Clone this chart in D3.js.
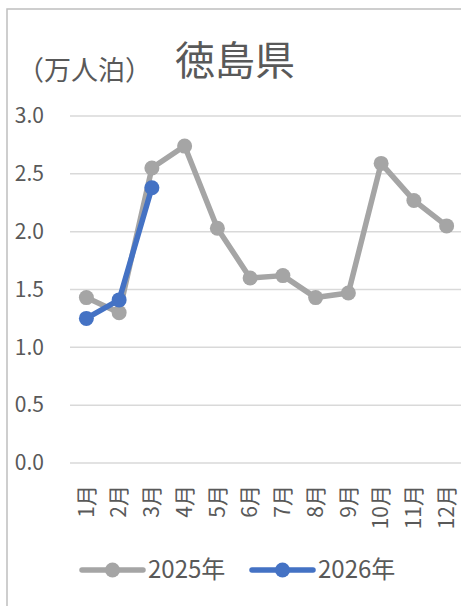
<!doctype html>
<html lang="ja">
<head>
  <meta charset="utf-8">
  <title>徳島県</title>
  <style>
    html, body { margin: 0; padding: 0; background: #fff; overflow: hidden; }
    svg { display: block; font-family: "Noto Sans CJK JP", "Noto Sans", sans-serif; }
  </style>
</head>
<body>
  <div id="chart"></div>
  <script src="https://d3js.org/d3.v7.min.js"></script>
  <script>
    // data (万人泊)
    const months = ["1月", "2月", "3月", "4月", "5月", "6月", "7月", "8月", "9月", "10月", "11月", "12月"];
    const values2025 = [1.43, 1.30, 2.55, 2.74, 2.03, 1.60, 1.62, 1.43, 1.47, 2.59, 2.27, 2.05];
    const values2026 = [1.25, 1.41, 2.38];
    const yTicks = [0, 0.5, 1.0, 1.5, 2.0, 2.5, 3.0];

    const series = [
      { name: "2025年", values: values2025, color: "#a5a5a5" },
      { name: "2026年", values: values2026, color: "#4472c4" }
    ];

    const W = 461, H = 606;
    const plot = { left: 70, right: 463, top: 116, bottom: 463 };
    const textColor = "#595959";

    const svg = d3.select("#chart").append("svg")
      .attr("width", W)
      .attr("height", H);

    // chart frame (right and bottom edges fall outside the picture)
    svg.append("rect")
      .attr("x", 7).attr("y", 9)
      .attr("width", W + 10).attr("height", H + 10)
      .attr("fill", "#fff")
      .attr("stroke", "#bfbfbf")
      .attr("stroke-width", 1.5);

    const x = d3.scaleBand()
      .domain(months)
      .range([plot.left, plot.right]);

    const y = d3.scaleLinear()
      .domain([0, 3])
      .range([plot.bottom, plot.top]);

    // gridlines
    svg.append("g")
      .selectAll("line")
      .data(yTicks)
      .join("line")
      .attr("x1", plot.left).attr("x2", W)
      .attr("y1", d => y(d)).attr("y2", d => y(d))
      .attr("stroke", "#d9d9d9")
      .attr("stroke-width", 1.5);

    // y axis labels
    const yAxis = svg.append("g")
      .attr("transform", `translate(${plot.left - 26},0)`)
      .call(d3.axisLeft(y).tickValues(yTicks).tickFormat(d3.format(".1f")).tickSize(0).tickPadding(0));
    yAxis.select(".domain").remove();
    yAxis.selectAll("text")
      .attr("fill", textColor)
      .style("font-size", "21px")
      .style("font-family", "\"Noto Sans CJK JP\", sans-serif");

    // x axis labels (rotated)
    const xAxis = svg.append("g")
      .attr("transform", `translate(0,${plot.bottom + 22})`)
      .call(d3.axisBottom(x).tickSize(0).tickPadding(0));
    xAxis.select(".domain").remove();
    xAxis.selectAll("text")
      .attr("fill", textColor)
      .attr("transform", "rotate(-90)")
      .attr("text-anchor", "end")
      .attr("dx", 0)
      .attr("dy", "0.35em")
      .attr("y", 0)
      .style("font-size", "21px")
      .style("font-family", "\"Noto Sans CJK JP\", sans-serif");

    // lines and markers
    const line = d3.line()
      .x((d, i) => x(months[i]) + x.bandwidth() / 2)
      .y(d => y(d));

    series.forEach(s => {
      const g = svg.append("g");
      g.append("path")
        .datum(s.values)
        .attr("d", line)
        .attr("fill", "none")
        .attr("stroke", s.color)
        .attr("stroke-width", 5.5)
        .attr("stroke-linejoin", "round")
        .attr("stroke-linecap", "round");
      g.selectAll("circle")
        .data(s.values)
        .join("circle")
        .attr("cx", (d, i) => x(months[i]) + x.bandwidth() / 2)
        .attr("cy", d => y(d))
        .attr("r", 7.5)
        .attr("fill", s.color);
    });

    // title and unit
    svg.append("text")
      .attr("x", 235).attr("y", 75)
      .attr("text-anchor", "middle")
      .attr("fill", textColor)
      .style("font-size", "40px")
      .text("徳島県");

    svg.append("text")
      .attr("x", 17).attr("y", 80)
      .attr("fill", textColor)
      .style("font-size", "27px")
      .text("（万人泊）");

    // legend
    const legend = svg.append("g").attr("transform", "translate(82,570)");
    const items = legend.selectAll("g")
      .data(series)
      .join("g")
      .attr("transform", (d, i) => `translate(${i * 170},0)`);
    items.append("line")
      .attr("x1", 0).attr("x2", 61)
      .attr("stroke", d => d.color)
      .attr("stroke-width", 5.5)
      .attr("stroke-linecap", "round");
    items.append("circle")
      .attr("cx", 30.5).attr("r", 7.5)
      .attr("fill", d => d.color);
    items.append("text")
      .attr("x", 66).attr("dy", "0.35em")
      .attr("fill", textColor)
      .style("font-size", "24px")
      .text(d => d.name);
  </script>
</body>
</html>
